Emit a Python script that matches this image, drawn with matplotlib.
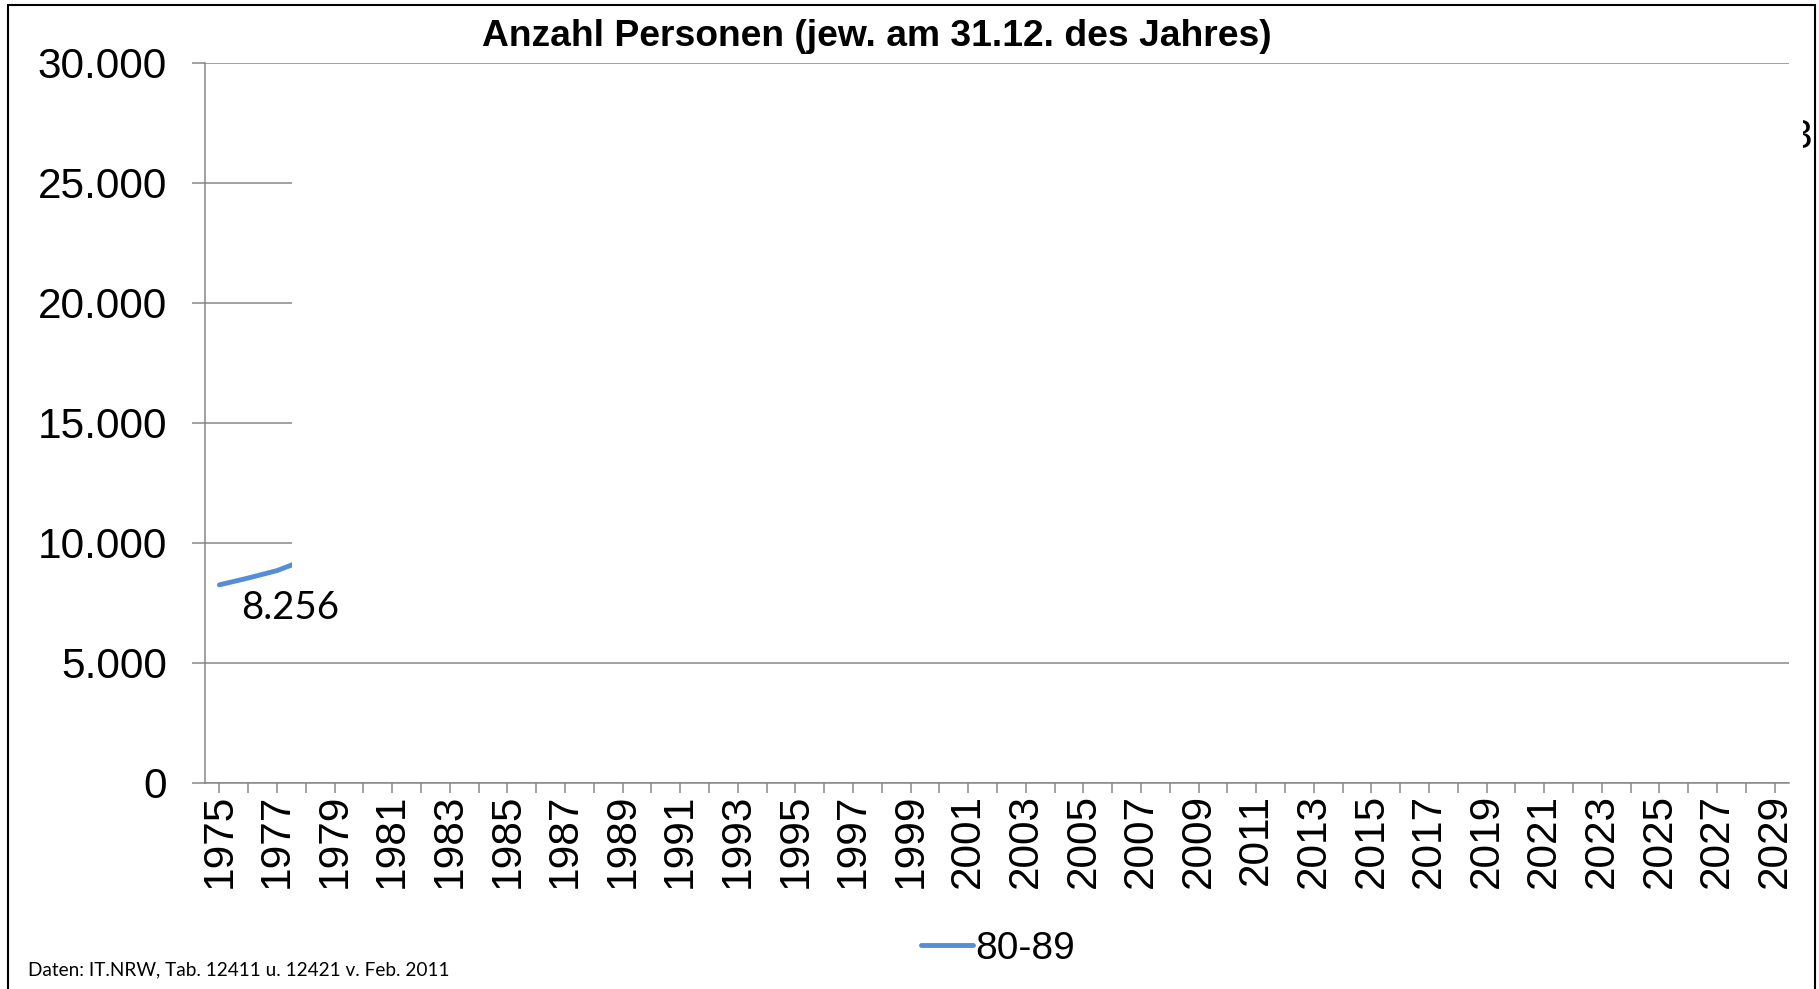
import matplotlib
matplotlib.use("Agg")
import matplotlib.pyplot as plt
from matplotlib.patches import Rectangle
from matplotlib.ticker import FuncFormatter
from matplotlib.transforms import offset_copy

# ------------------------ daten ------------------------
jahre = list(range(1975, 2030))
jahre_80_89 = [1975, 1976, 1977, 1978]
werte_80_89 = [8256, 8540, 8850, 9310]
y_ticks = [0, 5000, 10000, 15000, 20000, 25000, 30000]
titel = "Anzahl Personen (jew. am 31.12. des Jahres)"
quelle = "Daten: IT.NRW, Tab. 12411 u. 12421 v. Feb. 2011"

W, H = 1819, 989
grau = "#878787"
blau = "#558ED5"

fig = plt.figure(figsize=(W / 100, H / 100), dpi=100)
ax = fig.add_axes([205 / W, 1 - 783 / H, (1789 - 205) / W, (783 - 63) / H])

ax.plot(jahre_80_89, werte_80_89, color=blau, lw=3.5, solid_capstyle="round",
        label="80-89", zorder=3)

ax.set_xlim(jahre[0] - 0.5, jahre[-1] + 0.5)
ax.set_ylim(0, 30000)
ax.set_yticks(y_ticks)
ax.yaxis.set_major_formatter(FuncFormatter(lambda v, p: f"{v:,.0f}".replace(",", ".")))
ax.set_xticks(jahre)
ax.set_xticklabels([str(j) if (j - 1975) % 2 == 0 else "" for j in jahre],
                   rotation=90, family="Liberation Sans", fontsize=30.5)
for t in ax.get_yticklabels():
    t.set_family("Liberation Sans")
    t.set_fontsize(30.5)

ax.grid(axis="y", color=grau, lw=1.1)
ax.set_axisbelow(True)
ax.tick_params(axis="y", length=9.4, width=1.1, color=grau, pad=18)
ax.tick_params(axis="x", length=7.2, width=1.1, color=grau, pad=0.5)
for s in ["top", "right"]:
    ax.spines[s].set_visible(False)
for s in ["left", "bottom"]:
    ax.spines[s].set_color(grau)
    ax.spines[s].set_linewidth(1.1)

fig.text(877 / W, 1 - 36 / H, titel, ha="center", va="center", fontsize=26.8,
         weight="bold", family="Liberation Sans")
fig.text(28 / W, 1 - 970 / H, quelle, ha="left", va="center", fontsize=13.7, family="Lato")

leg = fig.legend(loc="center", bbox_to_anchor=(998 / W, 1 - 949 / H), frameon=False,
                 prop={"family": "Liberation Sans", "size": 28}, handlelength=1.35,
                 handletextpad=0.05, borderpad=0, borderaxespad=0)

# Bruchstueck eines Datenlabels rechts, zum Teil verdeckt
fig.text(1812 / W, 1 - 137 / H, "3", ha="right", va="center", fontsize=29,
         family="Liberation Sans", zorder=4)
# weisse Abdeckflaeche (Animationsstand)
fig.patches.append(Rectangle((292 / W, 1 - 658 / H), (1803 - 292) / W, (658 - 68) / H,
                             transform=fig.transFigure, facecolor="white",
                             edgecolor="none", zorder=5))
# Datenlabel liegt ueber der Abdeckung
fig.text(jahre_80_89[0], werte_80_89[0], "8.256", ha="center", va="center",
         fontsize=27.5, family="Lato", zorder=7,
         transform=offset_copy(ax.transData, fig=fig, x=51, y=-17, units="points"))
# Rahmen
fig.patches.append(Rectangle((8 / W, -0.05), (1815 - 8) / W, 1.05 - 5 / H,
                             transform=fig.transFigure, fill=False,
                             edgecolor="black", lw=1.5, zorder=6))

fig.savefig("out.png", dpi=100)
